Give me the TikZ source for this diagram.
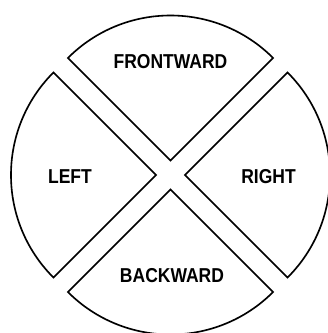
\documentclass[tikz,border=0pt]{standalone}
\usepackage{fontspec}
\setmainfont{Liberation Sans}
\usetikzlibrary{calc}
\tikzset{
  sector/.style={draw=black, line width=1.6pt, fill=white, line join=miter},
  sectorshadow/.style={draw=gray!35, line width=2pt},
  dirlabel/.style={font=\fontsize{17.5}{20}\selectfont\bfseries, yscale=1.15}
}
\begin{document}
\begin{tikzpicture}[x=1pt, y=1pt]
    \useasboundingbox (0,0) rectangle (328,333);
    \clip (0,0) rectangle (328,333);
    \coordinate (c) at (170.5,158);
    % shadows first, then the four sectors
    \foreach \a in {90,180,270,0} {
        \draw[sectorshadow, shift={(1.5,-1.5)}] ($(c)+(\a:14.5)$) -- ++(\a+45:145)
            arc[start angle=\a+45, end angle=\a-45, radius=145] -- cycle;
    }
    \foreach \a in {90,180,270,0} {
        \draw[sector] ($(c)+(\a:14.5)$) -- ++(\a+45:145)
            arc[start angle=\a+45, end angle=\a-45, radius=145] -- cycle;
    }
    \node[dirlabel] (front) at (170.5,271) {FRONTWARD};
    \node[dirlabel] (left) at (70,156) {LEFT};
    \node[dirlabel] (right) at (268.5,156) {RIGHT};
    \node[dirlabel] (back) at (172,57.5) {BACKWARD};
\end{tikzpicture}
\end{document}
